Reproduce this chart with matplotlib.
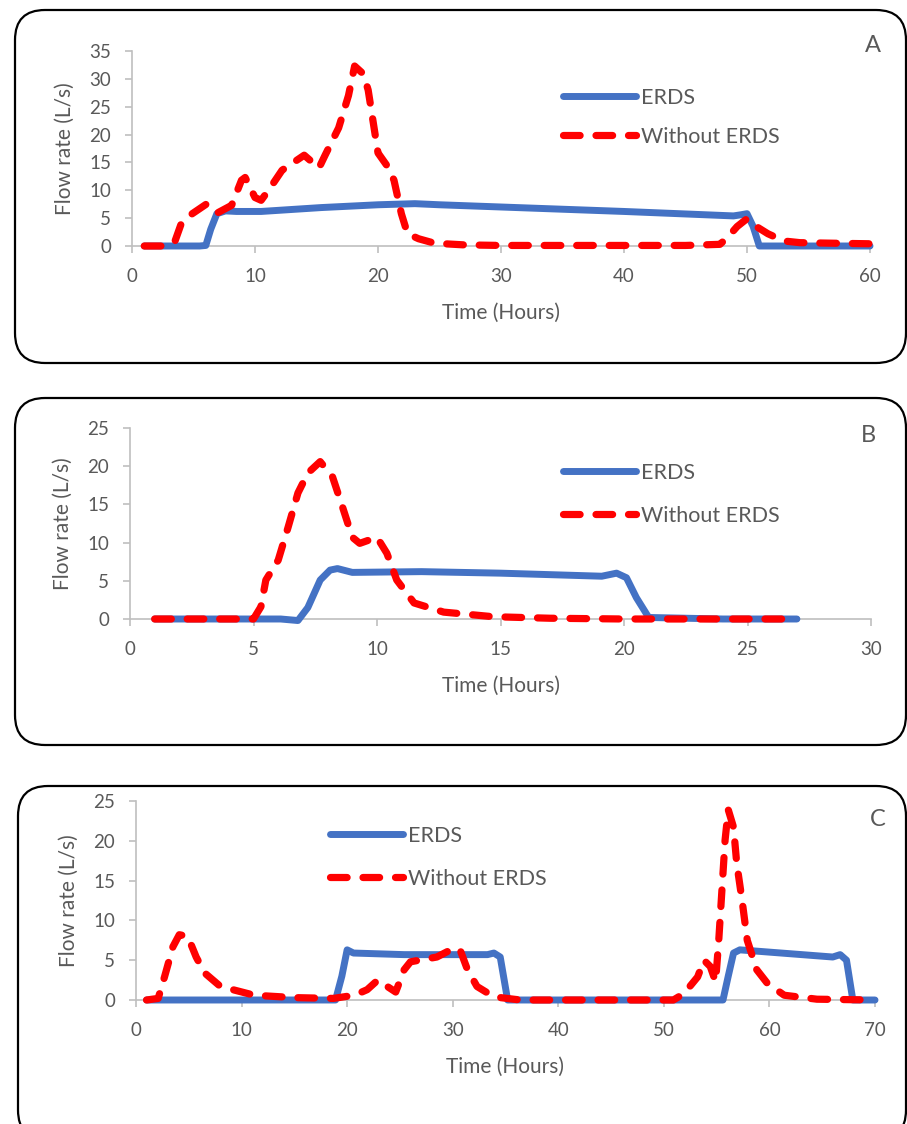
"""
Flow rate with / without ERDS - three storm events (A, B, C)
"""

import matplotlib
matplotlib.use("Agg")
import matplotlib.pyplot as plt
from matplotlib.patches import FancyBboxPatch
from matplotlib.lines import Line2D

plt.rcParams['font.family'] = ['Lato', 'DejaVu Sans']

# --- data ----------------------------------------------------------------
# panel A
a_red_t = [1, 2, 2.7, 3.5, 4, 4.9, 6.1, 7, 8.1, 8.9, 9.2, 10, 10.5, 11.1, 12.2,
           14, 15.2, 15.7, 16.8, 17.6, 18.1, 18.8, 19.2, 20, 20.8, 21.3, 21.9,
           22.4, 23.3, 24.6, 27, 30, 35, 40, 45, 47.8, 48.4, 49.2, 50, 50.9,
           51.7, 53, 54.3, 57, 60]
a_red_q = [0, 0, 0, 0.9, 4, 5.8, 7.6, 6, 7.3, 11.8, 12.3, 8.7, 8.2, 10, 13.6,
           16.3, 14, 16.3, 21.2, 27, 32.3, 30.9, 28, 16.7, 14.2, 11.8, 5.8,
           2.2, 1.3, 0.5, 0.2, 0.1, 0.1, 0.1, 0.1, 0.3, 1.5, 3.5, 4.9, 3.3,
           2.2, 0.9, 0.6, 0.5, 0.4]
a_blue_t = [1, 3, 5.5, 6.0, 6.4, 6.9, 7.6, 8.5, 10.5, 15.4, 20, 23, 25, 30, 40,
            48.9, 49.5, 50, 50.5, 51, 52, 60]
a_blue_q = [0, 0, 0, 0.1, 3, 5.8, 6.3, 6.2, 6.2, 6.9, 7.4, 7.6, 7.4, 7.0, 6.2,
            5.4, 5.6, 5.8, 3.5, 0, 0, 0]

# panel B
b_red_t = [1, 2, 3, 4, 5, 5.3, 5.5, 6, 6.4, 6.8, 7.2, 7.7, 8.2, 8.6, 9, 9.3,
           10, 10.4, 10.8, 11.5, 12.7, 14.7, 17, 20, 23, 27]
b_red_q = [0, 0, 0, 0, 0, 1.6, 5.1, 7.7, 12, 16.5, 19.1, 20.6, 18.6, 14.7,
           10.7, 9.9, 10.7, 8.6, 5.1, 2.1, 0.9, 0.3, 0.1, 0, 0, 0]
b_blue_t = [1, 4, 6.1, 6.8, 7.2, 7.7, 8.1, 8.4, 9, 11.8, 15, 19.1, 19.7, 20.1,
            20.5, 21, 24, 27]
b_blue_q = [0, 0, 0, -0.2, 1.5, 5.1, 6.4, 6.6, 6.1, 6.2, 6.0, 5.6, 6.0, 5.4,
            2.8, 0.2, 0, 0]

# panel C
c_red_t = [1, 2.1, 2.7, 3.5, 4.1, 4.9, 5.7, 6.5, 8, 11.2, 15, 18.7, 20.7, 21.9,
           22.9, 23.8, 24.6, 25.4, 26, 28.5, 30.1, 30.7, 31.4, 32.3, 33.9,
           36.4, 40, 45, 50.9, 51.9, 53.2, 53.8, 54.4, 54.9, 55.2, 55.5, 55.8,
           56.1, 56.6, 56.9, 57.4, 57.9, 58.8, 59.8, 61.4, 64.5, 70]
c_red_q = [0, 0.2, 2.9, 6.7, 8.2, 8, 5.4, 3.4, 1.7, 0.6, 0.3, 0.2, 0.6, 1.3,
           2.5, 1.7, 1.0, 3.8, 4.8, 5.4, 6.5, 6.3, 3.8, 1.7, 0.4, 0, 0, 0, 0,
           0.8, 2.9, 5, 4.2, 2.3, 7.5, 13.8, 20.1, 23.9, 21.7, 17.2, 12.6, 7.5,
           3.8, 2.1, 0.6, 0.1, 0]
c_blue_t = [1, 10, 18.9, 19.5, 20, 20.6, 25.4, 33.3, 33.9, 34.5, 35.2, 45,
            55.6, 56.1, 56.6, 57.2, 66, 66.7, 67.3, 67.9, 70]
c_blue_q = [0, 0, 0, 3, 6.3, 5.9, 5.7, 5.7, 5.9, 5.4, 0, 0, 0, 3, 5.9, 6.3, 5.4,
            5.7, 5.0, 0, 0]

series_labels = ['ERDS', 'Without ERDS']
panel_letters = ['A', 'B', 'C']

BLUE = '#4472C4'
RED = '#FF0000'
GREY_TXT = '#595959'
GREY_AX = '#BFBFBF'
W, H = 907, 1124

fig = plt.figure(figsize=(W / 100, H / 100), dpi=100)

# rounded frames behind each panel (pixel coordinates)
bg = fig.add_axes([0, 0, 1, 1], zorder=-1)
bg.set_xlim(0, W)
bg.set_ylim(H, 0)
bg.axis('off')
for (x0, y0, x1, y1) in [(15, 10, 906, 363), (15, 398, 906, 745), (18, 786, 906, 1140)]:
    bg.add_patch(FancyBboxPatch((x0, y0), x1 - x0, y1 - y0,
                                boxstyle='round,pad=0,rounding_size=30',
                                fc='white', ec='black', lw=1.6))


def px_axes(left, right, top, bottom):
    return fig.add_axes([left / W, 1 - bottom / H, (right - left) / W, (bottom - top) / H])


def draw_panel(ax, rt, rq, bt, bq, xmax, ymax, letter, leg_xy, leg_sp, lab_xy):
    ax.plot(bt, bq, color=BLUE, lw=5, solid_capstyle='round',
            solid_joinstyle='round', clip_on=False, zorder=3)
    ax.plot(rt, rq, color=RED, lw=5.2, dashes=(2.3, 2.2),
            dash_capstyle='round', dash_joinstyle='round', clip_on=False, zorder=4)
    ax.set_xlim(0, xmax)
    ax.set_ylim(0, ymax)
    ax.set_xticks(range(0, xmax + 1, 10 if xmax > 30 else 5))
    ax.set_yticks(range(0, ymax + 1, 5))
    for s in ['top', 'right']:
        ax.spines[s].set_visible(False)
    for s in ['left', 'bottom']:
        ax.spines[s].set_color(GREY_AX)
        ax.spines[s].set_linewidth(1.2)
    ax.tick_params(axis='x', direction='out', length=5, width=1.2, color=GREY_AX,
                   labelcolor=GREY_TXT, labelsize=13.5, pad=11)
    ax.tick_params(axis='y', direction='out', length=5, width=1.2, color=GREY_AX,
                   labelcolor=GREY_TXT, labelsize=13.5, pad=10)
    ax.set_xlabel('Time (Hours)', fontsize=15, color=GREY_TXT, va='center')
    ax.set_ylabel('Flow rate (L/s)', fontsize=15, color=GREY_TXT, va='center')
    bb = ax.get_position()
    ax_h = bb.height * H
    ax_w = bb.width * W
    ax.xaxis.set_label_coords(0.5, -67 / ax_h)
    ax.yaxis.set_label_coords(-67 / ax_w, 0.5)

    handles = [Line2D([], [], color=BLUE, lw=5, solid_capstyle='round'),
               Line2D([], [], color=RED, lw=5.2, dashes=(2.3, 2.2), dash_capstyle='round')]
    ax.legend(handles, series_labels, loc='upper left',
              bbox_to_anchor=(leg_xy[0] / W, 1 - leg_xy[1] / H),
              bbox_transform=fig.transFigure, frameon=False, fontsize=15.5,
              labelcolor=GREY_TXT, handlelength=3.4, handletextpad=0.23,
              labelspacing=leg_sp, borderpad=0, borderaxespad=0)
    fig.text(lab_xy[0] / W, 1 - lab_xy[1] / H, letter, fontsize=17,
             color=GREY_TXT, ha='center', va='center')


ax_a = px_axes(132, 870, 51, 246)
draw_panel(ax_a, a_red_t, a_red_q, a_blue_t, a_blue_q, 60, 35, panel_letters[0],
           (563, 88), 0.87, (873, 45))

ax_b = px_axes(130, 871, 428, 619)
draw_panel(ax_b, b_red_t, b_red_q, b_blue_t, b_blue_q, 30, 25, panel_letters[1],
           (563, 463), 1.06, (868, 435))

ax_c = px_axes(136, 875, 801, 1000)
draw_panel(ax_c, c_red_t, c_red_q, c_blue_t, c_blue_q, 70, 25, panel_letters[2],
           (330, 826), 1.06, (878, 820))

fig.savefig('out.png', dpi=100)
